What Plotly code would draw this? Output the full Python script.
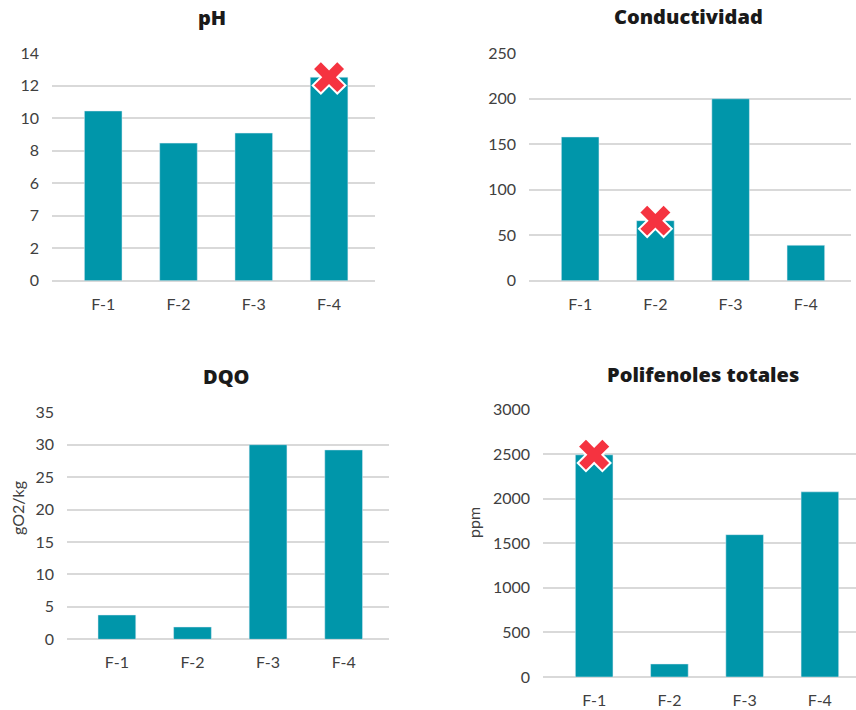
import plotly.graph_objects as go

categories = ["F-1", "F-2", "F-3", "F-4"]

ph_values = [10.45, 8.47, 9.09, 12.53]
cond_values = [158, 66, 200, 39]
dqo_values = [3.75, 1.9, 30, 29.2]
poli_values = [2490, 146, 1595, 2075]

ph_tickvals = [0, 2, 4, 6, 8, 10, 12, 14]
ph_ticktext = ["0", "2", "7", "6", "8", "10", "12", "14"]
cond_tickvals = [0, 50, 100, 150, 200, 250]
dqo_tickvals = [0, 5, 10, 15, 20, 25, 30, 35]
poli_tickvals = [0, 500, 1000, 1500, 2000, 2500, 3000]

titles = ["pH", "Conductividad", "DQO", "Polifenoles totales"]
y_titles = ["", "", "gO2/kg", "ppm"]

# flagged (red cross) points: (panel index, category)
flagged = [(0, "F-4"), (1, "F-2"), (3, "F-1")]

BAR = "#0096AA"
GRID = "#D9D9D9"
TXT = "#404040"
W, H = 856, 710

panels = [
    dict(vals=ph_values, rng=[0, 14], tv=ph_tickvals, tt=ph_ticktext, px=(52, 375), py=(53.3, 280.7), xr=[-0.68, 3.61]),
    dict(vals=cond_values, rng=[0, 250], tv=cond_tickvals, tt=[str(v) for v in cond_tickvals], px=(529, 851), py=(53.3, 280.7), xr=[-0.68, 3.6]),
    dict(vals=dqo_values, rng=[0, 35], tv=dqo_tickvals, tt=[str(v) for v in dqo_tickvals], px=(67, 389), py=(412.3, 639.3), xr=[-0.66, 3.6]),
    dict(vals=poli_values, rng=[0, 3000], tv=poli_tickvals, tt=[str(v) for v in poli_tickvals], px=(543, 856), py=(409.3, 677), xr=[-0.68, 3.48]),
]

fig = go.Figure()
font_ticks = dict(family="Lato", size=16, color=TXT)

for i, p in enumerate(panels):
    n = "" if i == 0 else str(i + 1)
    xa, ya = "x" + n, "y" + n
    fig.add_trace(go.Bar(x=categories, y=p["vals"], marker_color=BAR, width=0.5,
                         xaxis=xa, yaxis=ya, showlegend=False))
    fx = [c for (k, c) in flagged if k == i]
    fy = [p["vals"][categories.index(c)] for c in fx]
    if fx:
        fig.add_trace(go.Scatter(x=fx, y=fy, mode="markers", xaxis=xa, yaxis=ya, showlegend=False,
                                 cliponaxis=False,
                                 marker=dict(symbol="x", size=29, color="#F53340",
                                             line=dict(color="white", width=2))))
    xd = [p["px"][0] / W, p["px"][1] / W]
    yd = [1 - p["py"][1] / H, 1 - p["py"][0] / H]
    fig.layout["xaxis" + n] = dict(domain=xd, anchor=ya, type="category", range=p["xr"],
                                   showgrid=False, showline=False, zeroline=False, automargin=False,
                                   tickfont=font_ticks, ticks="", ticklabelstandoff=12)
    fig.layout["yaxis" + n] = dict(domain=yd, anchor=xa, range=p["rng"], tickvals=p["tv"], ticktext=p["tt"],
                                   showgrid=True, gridcolor=GRID, gridwidth=2, automargin=False,
                                   zeroline=True, zerolinecolor=GRID, zerolinewidth=2,
                                   showline=False, tickfont=font_ticks, ticks="", ticklabelstandoff=12)
    # panel title
    fig.add_annotation(text=titles[i], xref="paper", yref="paper",
                       x=[212, 688, 226, 703][i] / W, y=1 - [18, 17, 377, 374][i] / H,
                       xanchor="center", yanchor="middle", showarrow=False,
                       font=dict(family="Open Sans", size=20, color="#1A1A1A", weight=800))
    if y_titles[i]:
        fig.add_annotation(text=y_titles[i], xref="paper", yref="paper",
                           x=[0, 0, 17, 473][i] / W, y=1 - [0, 0, 508, 523][i] / H,
                           xanchor="center", yanchor="middle", showarrow=False, textangle=-90,
                           font=dict(family="Lato", size=16, color=TXT))

fig.update_layout(width=W, height=H, margin=dict(l=0, r=0, t=0, b=0),
                  plot_bgcolor="white", paper_bgcolor="white", bargap=0.5)

fig.write_html("out.html")
